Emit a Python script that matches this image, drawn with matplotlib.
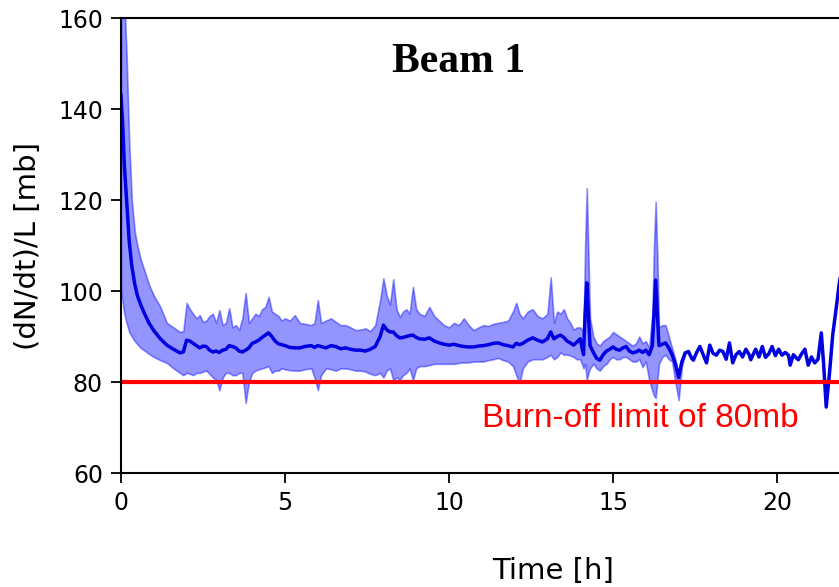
import matplotlib
matplotlib.use("Agg")
import matplotlib.pyplot as plt
import numpy as np

# band part (mean with spread), time in hours
band_t = [0.0, 0.05, 0.1, 0.17, 0.25, 0.33, 0.42, 0.5, 0.6, 0.7,
          0.85, 1.0, 1.2, 1.4, 1.6, 1.8, 1.9,
          2.0, 2.1, 2.2, 2.3, 2.4, 2.5, 2.6, 2.7, 2.8, 2.9,
          3.0, 3.1, 3.2, 3.3, 3.4, 3.5, 3.6, 3.7, 3.8, 3.9,
          4.0, 4.1, 4.2, 4.3, 4.4, 4.5, 4.6, 4.7, 4.8, 4.9,
          5.0, 5.15, 5.3, 5.45, 5.6, 5.8, 5.9, 6.0, 6.1, 6.25,
          6.4, 6.55, 6.7, 6.85, 7.0, 7.15, 7.3, 7.45, 7.6, 7.75,
          7.9, 8.0, 8.1, 8.2, 8.3, 8.4, 8.5, 8.6, 8.7, 8.8,
          8.9, 9.0, 9.1, 9.25, 9.4, 9.55, 9.7, 9.85, 10.0, 10.15,
          10.3, 10.45, 10.6, 10.75, 10.9, 11.05, 11.2, 11.35, 11.5, 11.65,
          11.8, 11.95, 12.05, 12.15, 12.25, 12.4, 12.55, 12.7, 12.85, 13.0,
          13.1, 13.2, 13.3, 13.4, 13.5, 13.6, 13.7, 13.8, 13.9, 14.0,
          14.1, 14.15, 14.2, 14.25, 14.3, 14.4, 14.5, 14.6, 14.7, 14.8,
          14.9, 15.0, 15.1, 15.2, 15.3, 15.4, 15.5, 15.6, 15.7, 15.8,
          15.9, 16.0, 16.1, 16.2, 16.25, 16.3, 16.35, 16.4, 16.5, 16.6,
          16.7, 16.8, 16.9, 17.0, 17.1, 17.2]
band_mean = [143, 137, 128, 120, 111, 105.5, 101.5, 99, 97, 95.3,
             93, 91.3, 89.5, 88.1, 87.2, 86.4, 86.6,
             89.2, 89.0, 88.5, 88.0, 87.5, 87.9, 87.8, 87.0, 86.6, 86.8,
             86.5, 87.0, 87.2, 88.0, 87.8, 87.5, 86.8, 86.6, 87.0, 87.5,
             88.5, 88.8, 89.2, 89.8, 90.3, 90.8, 90.0, 89.0, 88.4, 88.2,
             88.0, 87.6, 87.5, 87.5, 87.8, 88.0, 87.6, 88.0, 87.8, 87.5,
             88.0, 87.8, 87.3, 87.5, 87.2, 87.0, 87.0, 86.8, 87.2, 87.8,
             90.0, 92.5, 91.5, 91.0, 91.0, 90.2, 89.7, 89.8, 90.0, 90.2,
             90.3, 89.8, 89.5, 89.4, 89.7, 89.0, 88.6, 88.3, 88.1, 88.3,
             88.0, 87.8, 87.7, 87.7, 87.9, 88.0, 88.2, 88.5, 88.6, 88.2,
             88.0, 87.7, 88.5, 88.2, 88.5, 89.2, 89.7, 89.2, 88.8, 89.5,
             91.0, 89.5, 90.0, 90.3, 89.8, 89.0, 88.6, 88.1, 88.8, 89.5,
             86.0, 95.0, 101.8, 95.0, 88.0, 86.5, 85.2, 84.8, 86.0, 86.8,
             87.2, 87.7, 87.2, 87.0, 87.5, 87.8, 86.8, 86.4, 86.6, 87.0,
             86.5, 87.0, 86.0, 88.0, 95.0, 102.4, 95.0, 88.0, 88.3, 88.6,
             87.5, 86.0, 84.0, 81.0, 84.5, 86.4]
band_hi = [178, 172, 165, 152, 133, 120, 113, 110, 107, 104.8,
           101.5, 99, 96.5, 93, 92, 91, 91.2,
           97.4, 96.0, 95.0, 94.0, 94.7, 93.2, 93.5, 94.5, 95.0, 93.0,
           95.8, 92.5, 93.0, 96.2, 92.0, 92.5, 91.5, 94.0, 99.6, 93.0,
           94.0, 95.0, 94.5, 96.0, 96.5, 98.7, 95.5, 95.0, 94.5, 93.5,
           94.0, 93.5, 94.7, 93.0, 92.8, 92.5, 93.0, 98.0, 93.0, 93.5,
           94.0, 93.2, 92.5, 92.5, 92.0, 91.4, 91.5, 91.8, 91.2, 92.5,
           98.0, 102.8, 99.0, 97.0, 102.6, 96.0, 94.3, 95.5, 96.0, 95.0,
           100.9, 96.0, 95.0, 94.5, 96.5, 94.5, 93.5, 92.5, 92.0, 93.0,
           92.5, 94.0, 92.5, 91.4, 92.0, 92.5, 92.3, 92.8, 93.0, 93.2,
           93.5, 95.5, 97.4, 95.0, 94.0, 95.5, 96.0, 94.5, 94.0, 95.0,
           103.0, 93.0, 95.5, 95.0, 96.0, 94.0, 93.0, 91.5, 92.0, 92.0,
           91.0, 110.0, 122.6, 108.0, 94.0, 90.0, 88.5, 88.0, 89.0, 89.5,
           90.0, 91.0, 90.5, 90.0, 89.5, 89.0, 88.5, 88.0, 88.5, 90.0,
           88.5, 89.0, 87.5, 95.0, 110.0, 119.6, 108.0, 92.0, 92.5, 92.5,
           90.0, 87.5, 85.0, 81.5, 85.0, 86.8]
band_lo = [100, 97.5, 95, 93, 91, 90, 89, 88.3, 87.5, 87,
           86.2, 85.5, 84.8, 84.2, 83, 82, 81.5,
           82.0, 81.8, 81.5, 82.0, 82.0, 82.3, 82.5, 81.8, 81.0, 80.5,
           78.2, 81.0, 82.0, 82.0, 81.5, 81.5, 82.0, 82.0, 75.4, 80.0,
           82.0, 82.5, 82.8, 83.0, 83.2, 83.5, 82.0, 82.5, 82.5, 83.0,
           82.8, 82.6, 82.5, 82.5, 82.8, 83.0, 81.0, 78.2, 81.5, 83.0,
           82.8, 82.5, 83.0, 83.0, 82.8, 82.5, 82.5, 82.3, 81.8, 81.5,
           82.0, 81.0, 82.5, 83.0, 80.5, 81.0, 80.5, 81.5, 82.0, 83.0,
           80.4, 83.0, 83.5, 83.5, 83.7, 84.0, 84.0, 84.0, 84.0, 84.0,
           84.2, 84.3, 84.3, 84.5, 84.5, 84.5, 84.8, 85.0, 85.3, 84.8,
           84.5, 83.5, 81.5, 79.8, 83.0, 84.5, 85.0, 85.0, 85.0, 85.5,
           86.0, 85.0, 85.5, 86.5, 86.0, 86.0, 85.8, 85.5, 85.0, 85.0,
           83.0, 84.0, 80.4, 82.0, 83.0, 84.0, 83.0, 82.5, 83.5, 84.0,
           85.0, 85.5, 85.0, 85.0, 85.5, 85.5, 85.0, 84.5, 84.5, 85.0,
           83.3, 84.5, 80.5, 78.0, 77.0, 76.5, 80.0, 84.0, 85.5, 86.0,
           85.0, 84.5, 80.0, 76.0, 83.5, 86.0]

# tail where the spread is no longer visible
tail_t = [17.3, 17.4, 17.45, 17.55, 17.65, 17.75, 17.85, 17.95, 18.05, 18.15,
          18.25, 18.35, 18.45, 18.55, 18.65, 18.75, 18.85, 18.95, 19.05, 19.15,
          19.2, 19.3, 19.35, 19.45, 19.55, 19.65, 19.75, 19.85, 19.95, 20.05,
          20.15, 20.25, 20.35, 20.4, 20.5, 20.6, 20.65, 20.75, 20.85, 20.95,
          21.05, 21.15, 21.25, 21.35, 21.42, 21.5, 21.6, 21.7, 21.8, 21.9, 22.0]
tail_mean = [86.7, 85.2, 84.8, 86.5, 87.8, 86.0, 84.2, 88.1, 86.3, 85.9,
             87.0, 86.7, 85.0, 88.6, 84.2, 86.0, 86.7, 85.5, 87.2, 86.0,
             84.9, 86.5, 87.2, 85.5, 87.8, 85.4, 86.2, 87.8, 85.8, 87.2,
             85.9, 86.5, 85.9, 83.7, 86.0, 85.2, 84.9, 86.2, 87.2, 83.7,
             85.5, 84.2, 85.0, 90.8, 84.0, 74.5, 82.0, 90.5, 96.0, 101.8, 106.0]

burn_off = 80
xticks = [0, 5, 10, 15, 20]
yticks = [60, 80, 100, 120, 140, 160]

fig = plt.figure(figsize=(8.39, 5.87), dpi=100)
# axes run past the right edge, as in the cropped original
ax = fig.add_axes([0.1442, 0.1942, 1.0298, 0.7751])

ax.fill_between(band_t, band_lo, band_hi, color="blue", alpha=0.42, linewidth=1.2)
t_all = np.concatenate([band_t, tail_t])
m_all = np.concatenate([band_mean, tail_mean])
ax.plot(t_all, m_all, color="#0000e0", linewidth=2.5)
ax.axhline(burn_off, color="red", linewidth=3)

ax.set_xlim(0, 26.34)
ax.set_ylim(60, 160)
ax.set_xticks(xticks)
ax.set_yticks(yticks)
ax.tick_params(labelsize=17, length=7, width=1.3, pad=6)
for s in ax.spines.values():
    s.set_linewidth(1.5)

ax.set_xlabel("Time [h]", fontsize=21)
ax.xaxis.set_label_coords(0.5, -0.185)
ax.set_ylabel("(dN/dt)/L [mb]", fontsize=21)
ax.yaxis.set_label_coords(-0.091, 0.5)

ax.text(10.3, 150.3, "Beam 1", fontsize=30, fontweight="bold",
        family="Liberation Serif", ha="center", va="center")
ax.text(11.0, 70.1, "Burn-off limit of 80mb", fontsize=24, color="red",
        family="Liberation Sans", ha="left", va="baseline")

fig.savefig("out.png", dpi=100)
